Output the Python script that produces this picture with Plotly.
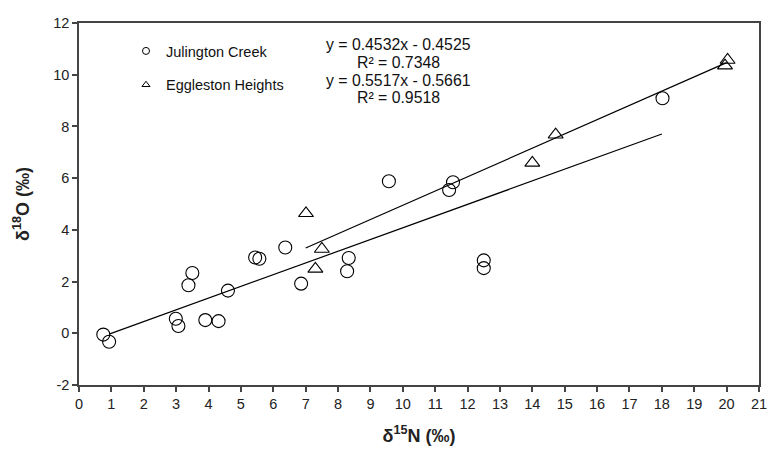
import plotly.graph_objects as go

# Julington Creek (circles)
jc_x = [0.75, 0.93, 2.99, 3.07, 3.38, 3.50, 3.90, 4.31, 4.60, 5.44, 5.57, 6.37, 6.86,
        8.33, 8.28, 9.57, 11.55, 11.43, 12.50, 12.50, 18.02]
jc_y = [-0.05, -0.33, 0.56, 0.28, 1.86, 2.33, 0.51, 0.47, 1.65, 2.93, 2.88, 3.32, 1.92,
        2.91, 2.40, 5.88, 5.84, 5.54, 2.82, 2.52, 9.09]

# Eggleston Heights (triangles)
eh_x = [7.01, 7.50, 7.30, 14.00, 14.72, 20.03, 19.95]
eh_y = [4.64, 3.26, 2.49, 6.59, 7.68, 10.57, 10.35]

# regression fits
jc_slope, jc_icpt, jc_r2 = 0.4532, -0.4525, 0.7348
eh_slope, eh_icpt, eh_r2 = 0.5517, -0.5661, 0.9518
jc_fit_x = [0.93, 18.0]
eh_fit_x = [7.0, 20.0]

x_ticks = list(range(0, 22))
y_ticks = list(range(-2, 13, 2))

fig = go.Figure()

mk_line = dict(color="black", width=1.1)

fig.add_trace(go.Scatter(x=jc_fit_x, y=[jc_slope * v + jc_icpt for v in jc_fit_x],
                         mode="lines", line=dict(color="black", width=1.2), showlegend=False))
fig.add_trace(go.Scatter(x=eh_fit_x, y=[eh_slope * v + eh_icpt for v in eh_fit_x],
                         mode="lines", line=dict(color="black", width=1.2), showlegend=False))

fig.add_trace(go.Scatter(x=jc_x, y=jc_y, mode="markers", showlegend=False,
                         marker=dict(symbol="circle-open", size=13, color="black", line=mk_line)))
fig.add_trace(go.Scatter(x=eh_x, y=eh_y, mode="markers", showlegend=False,
                         marker=dict(symbol="triangle-up-open", size=13, color="black", line=mk_line)))

# legend entries (small markers)
fig.add_trace(go.Scatter(x=[None], y=[None], mode="markers", name="Julington Creek",
                         legendgroup="a",
                         marker=dict(symbol="circle-open", size=7, color="black", line=dict(color="black", width=1))))
fig.add_trace(go.Scatter(x=[None], y=[None], mode="markers", name="Eggleston Heights",
                         legendgroup="b",
                         marker=dict(symbol="triangle-up-open", size=7, color="black", line=dict(color="black", width=1))))

font = "Liberation Sans, Arial, sans-serif"

eq_lines = [
    (f"y = {jc_slope}x - {abs(jc_icpt)}", 45),
    (f"R² = {jc_r2}", 62),
    (f"y = {eh_slope}x - {abs(eh_icpt)}", 80),
    (f"R² = {eh_r2}", 97),
]
H = 453
pt, pb = 23, 68
for txt, ypx in eq_lines:
    fig.add_annotation(x=(398 - 79) / (759 - 79), y=1 - (ypx - pt) / (H - pt - pb),
                       xref="paper", yref="paper", text=txt, showarrow=False,
                       xanchor="center", yanchor="middle",
                       font=dict(family=font, size=15.8, color="#111"))

axis_common = dict(showgrid=False, zeroline=False, showline=True, linecolor="#444",
                   linewidth=1.5, mirror=True, ticks="outside", ticklen=5, tickwidth=1.5,
                   tickcolor="#444", tickfont=dict(family=font, size=14.5, color="#222"),
                   automargin=False)

fig.update_xaxes(range=[0, 21], tickvals=x_ticks, ticktext=[str(v) for v in x_ticks],
                 title=dict(text="<b>δ<sup>15</sup>N (‰)</b>", font=dict(family=font, size=18, color="#222"),
                            standoff=18),
                 **axis_common)
fig.update_yaxes(range=[-2, 12], tickvals=y_ticks, ticktext=[str(v) for v in y_ticks],
                 title=dict(text="<b>δ<sup>18</sup>O (‰)</b>", font=dict(family=font, size=18, color="#222"),
                            standoff=19),
                 **axis_common)

fig.update_layout(
    width=781, height=453,
    margin=dict(l=79, r=22, t=23, b=68),
    plot_bgcolor="white", paper_bgcolor="white",
    legend=dict(x=(126 - 79) / (759 - 79), y=1 - (35 - pt) / (H - pt - pb),
                xanchor="left", yanchor="top", bgcolor="rgba(0,0,0,0)",
                font=dict(family=font, size=14.5, color="#111"), tracegroupgap=12,
                itemsizing="trace"),
)

fig.write_html("out.html", config={"displayModeBar": False},
               post_script="document.body.style.margin='0px';")
